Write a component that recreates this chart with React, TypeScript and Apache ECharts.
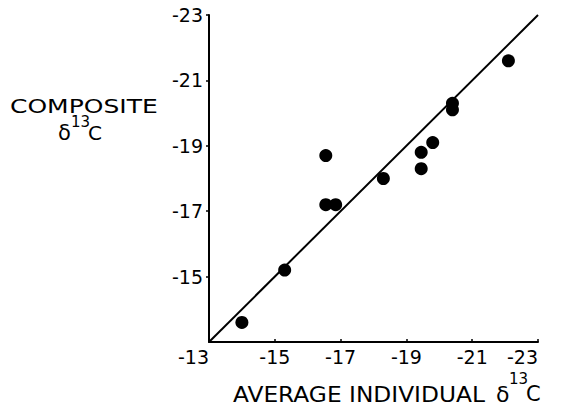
import React, { useEffect, useRef } from "react";
import * as echarts from "echarts";

const individual = [-14.0, -15.3, -16.55, -16.55, -16.85, -18.3, -19.45, -19.45, -19.8, -20.4, -20.4, -22.1];
const composite = [-13.6, -15.2, -18.7, -17.2, -17.2, -18.0, -18.3, -18.8, -19.1, -20.3, -20.1, -21.6];
const lineStart = [-13, -13];
const lineEnd = [-23, -23];
const axisMin = -23;
const axisMax = -13;
const tickStep = 2;

const FONT = "DejaVu Sans";

export default function App() {
  const ref = useRef<HTMLDivElement>(null);
  useEffect(() => {
    if (!ref.current) return;
    const chart = echarts.init(ref.current, undefined, { renderer: "svg" });
    const points = individual.map((x, i) => [x, composite[i]]);
    chart.setOption({
      animation: false,
      backgroundColor: "#ffffff",
      grid: { left: 209, right: 23, top: 15, bottom: 69, containLabel: false },
      xAxis: {
        type: "value",
        min: axisMin,
        max: axisMax,
        interval: tickStep,
        inverse: true,
        splitLine: { show: false },
        axisLine: { onZero: false, lineStyle: { color: "#000", width: 2 } },
        axisTick: { inside: true, length: 3, lineStyle: { color: "#000", width: 1.5 } },
        axisLabel: {
          color: "#000",
          fontFamily: FONT,
          fontSize: 19,
          margin: 5,
          alignMaxLabel: "right",
          alignMinLabel: "right",
        },
      },
      yAxis: {
        type: "value",
        min: axisMin,
        max: axisMax,
        interval: tickStep,
        inverse: true,
        splitLine: { show: false },
        axisLine: { onZero: false, lineStyle: { color: "#000", width: 2 } },
        axisTick: { inside: false, length: 3, lineStyle: { color: "#000", width: 1.5 } },
        axisLabel: {
          color: "#000",
          fontFamily: FONT,
          fontSize: 19,
          margin: 6,
          showMaxLabel: false,
          formatter: (v: number) => (v === axisMax ? "" : String(v)),
        },
      },
      series: [
        {
          type: "line",
          data: [lineStart, lineEnd],
          symbol: "none",
          lineStyle: { color: "#000", width: 2 },
          clip: false,
          silent: true,
        },
        {
          type: "scatter",
          data: points,
          symbol: "circle",
          symbolSize: 13,
          itemStyle: { color: "#000", opacity: 1 },
        },
      ],
      graphic: [
        {
          type: "text",
          x: 10,
          y: 106,
          scaleX: 1.25,
          style: { text: "COMPOSITE", fontFamily: FONT, fontSize: 20, fill: "#000", textAlign: "left", textVerticalAlign: "middle" },
        },
        {
          type: "text",
          x: 58,
          y: 133,
          style: { text: "δ", fontFamily: FONT, fontSize: 21, fill: "#000", textAlign: "left", textVerticalAlign: "middle" },
        },
        {
          type: "text",
          x: 71,
          y: 122,
          style: { text: "13", fontFamily: FONT, fontSize: 15, fill: "#000", textAlign: "left", textVerticalAlign: "middle" },
        },
        {
          type: "text",
          x: 88,
          y: 133,
          style: { text: "C", fontFamily: FONT, fontSize: 20, fill: "#000", textAlign: "left", textVerticalAlign: "middle" },
        },
        {
          type: "text",
          x: 233,
          y: 394,
          scaleX: 1.11,
          style: { text: "AVERAGE INDIVIDUAL", fontFamily: FONT, fontSize: 21, fill: "#000", textAlign: "left", textVerticalAlign: "middle" },
        },
        {
          type: "text",
          x: 496,
          y: 394,
          style: { text: "δ", fontFamily: FONT, fontSize: 22, fill: "#000", textAlign: "left", textVerticalAlign: "middle" },
        },
        {
          type: "text",
          x: 509,
          y: 379,
          style: { text: "13", fontFamily: FONT, fontSize: 15, fill: "#000", textAlign: "left", textVerticalAlign: "middle" },
        },
        {
          type: "text",
          x: 526,
          y: 394,
          style: { text: "C", fontFamily: FONT, fontSize: 21, fill: "#000", textAlign: "left", textVerticalAlign: "middle" },
        },
      ],
    });
    return () => chart.dispose();
  }, []);
  return <div ref={ref} style={{ width: 561, height: 411, position: "absolute", left: 0, top: 0 }} />;
}
